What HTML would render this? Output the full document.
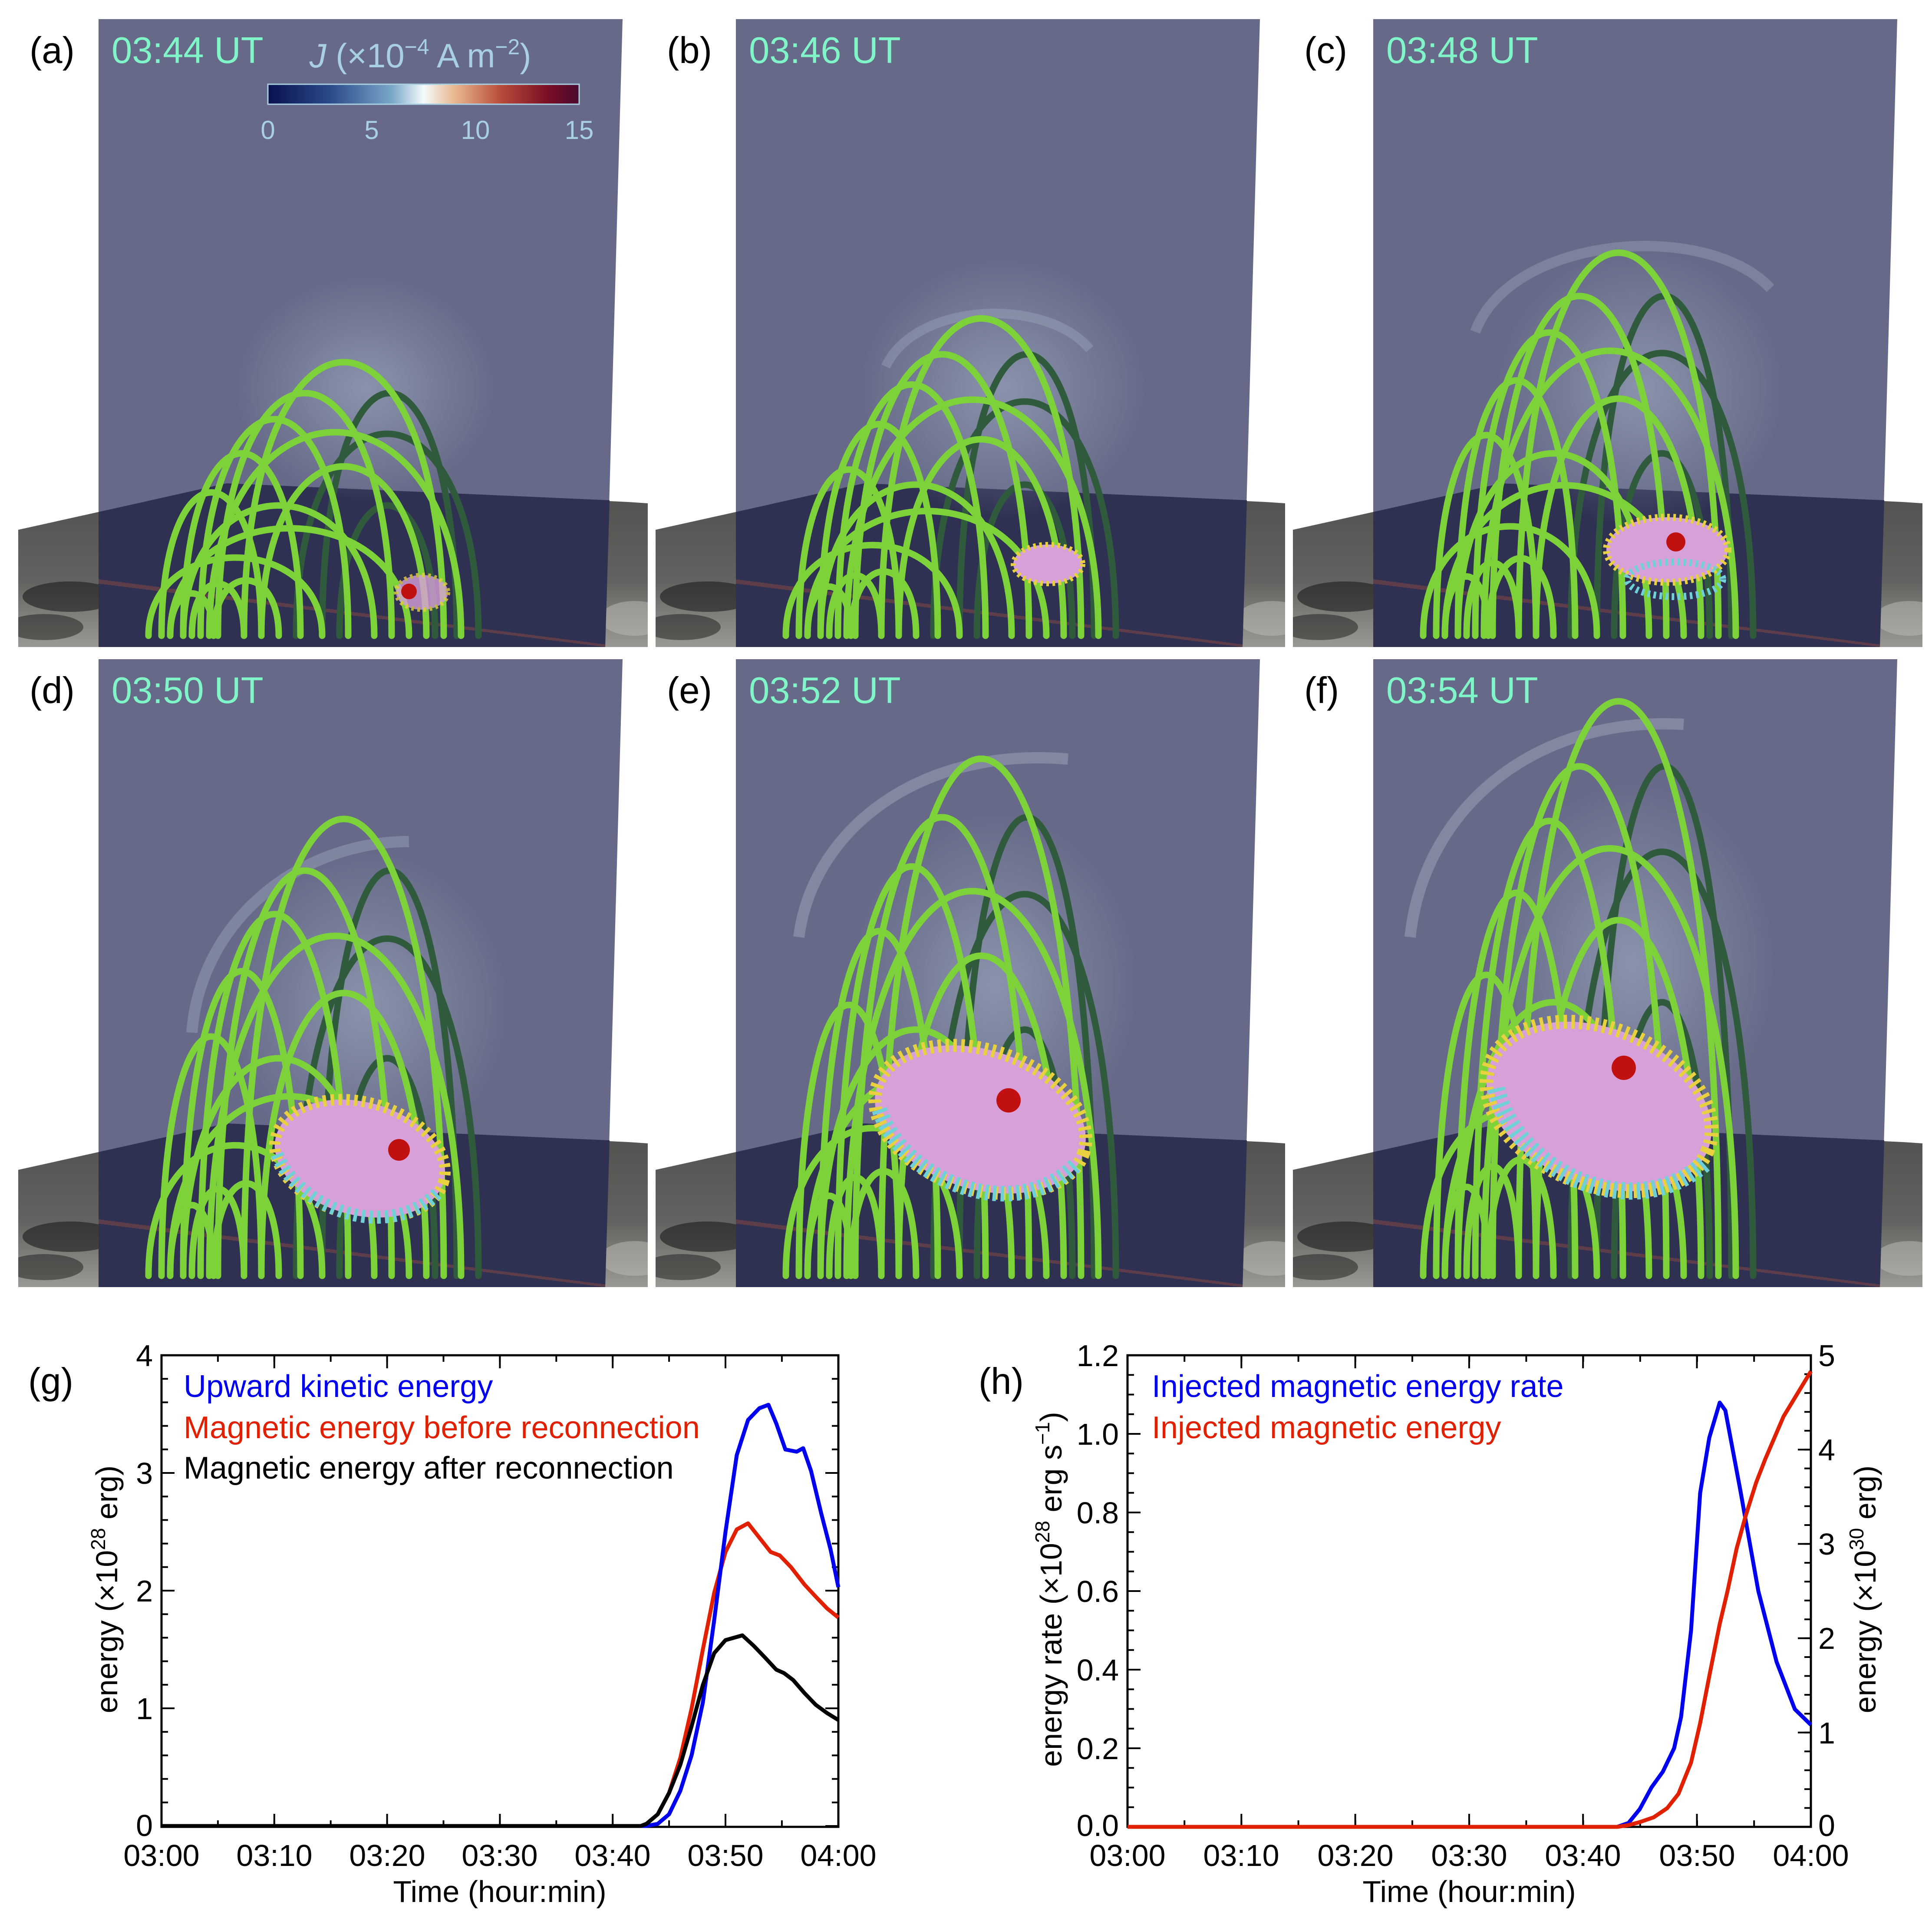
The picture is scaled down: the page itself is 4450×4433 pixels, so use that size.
<!DOCTYPE html>
<html><head><meta charset="utf-8"><style>
html,body{margin:0;padding:0;background:#fff}
svg{display:block}
text{font-family:"Liberation Sans",sans-serif}
</style></head><body>
<svg xmlns="http://www.w3.org/2000/svg" xmlns:xlink="http://www.w3.org/1999/xlink" width="4450" height="4433" viewBox="0 0 4450 4433">
<defs>
<clipPath id="pc"><rect x="0" y="0" width="1450" height="1446"/></clipPath>
<linearGradient id="cb" x1="0" x2="1" y1="0" y2="0">
<stop offset="0" stop-color="#0a1050"/><stop offset="0.2" stop-color="#2a4a8a"/><stop offset="0.4" stop-color="#7aa8c8"/><stop offset="0.5" stop-color="#f4fbfb"/><stop offset="0.6" stop-color="#e8b890"/><stop offset="0.75" stop-color="#b84a3a"/><stop offset="0.9" stop-color="#7a0e24"/><stop offset="1" stop-color="#4a0a30"/>
</linearGradient>
<linearGradient id="fl" x1="0" x2="0" y1="0" y2="1">
<stop offset="0" stop-color="#505050"/><stop offset="0.6" stop-color="#626260"/><stop offset="1" stop-color="#9a9a94"/>
</linearGradient>
<radialGradient id="glow" cx="0.5" cy="0.5" r="0.5">
<stop offset="0" stop-color="#a8b4c8" stop-opacity="0.55"/><stop offset="1" stop-color="#a8b4c8" stop-opacity="0"/>
</radialGradient>
<g id="bg">
<rect x="0" y="0" width="1450" height="1446" fill="#fff"/>
<polygon points="0,1176 185,1135 480,1069 1405,1112 1450,1115 1450,1446 0,1446" fill="url(#fl)"/>
<ellipse cx="120" cy="1330" rx="110" ry="35" fill="#1a1a1a" opacity="0.6"/>
<ellipse cx="60" cy="1400" rx="90" ry="30" fill="#1a1a1a" opacity="0.5"/>
<ellipse cx="330" cy="1260" rx="90" ry="25" fill="#2a2a2a" opacity="0.5"/>
<ellipse cx="1420" cy="1380" rx="80" ry="40" fill="#bdbdb5" opacity="0.5"/>
<polygon points="185,0 1392,0 1352,1446 185,1446" fill="#666a88"/>
<polygon points="185,1135 480,1069 1362,1108 1352,1446 185,1446" fill="#2f3152"/>
<polygon points="185,1290 1352,1440 1352,1446 185,1300" fill="#8a4a40" opacity="0.5"/>
</g>
<g id="loops" fill="none" stroke-linecap="round">
<g stroke="#2f5a3c">
<path vector-effect="non-scaling-stroke" stroke-width="15" d="M700 1420 C700 675, 1010 675, 1010 1420"/>
<path vector-effect="non-scaling-stroke" stroke-width="15" d="M740 1420 C740 1020, 960 1020, 960 1420"/>
<path vector-effect="non-scaling-stroke" stroke-width="15" d="M640 1420 C640 800, 1060 800, 1060 1420"/>
</g>
<g stroke="#7dd23a">
<path vector-effect="non-scaling-stroke" stroke-width="15" d="M330 1420 C330 980, 560 980, 560 1420"/>
<path vector-effect="non-scaling-stroke" stroke-width="15" d="M380 1420 C380 860, 650 860, 650 1420"/>
<path vector-effect="non-scaling-stroke" stroke-width="15" d="M420 1420 C420 755, 760 755, 760 1420"/>
<path vector-effect="non-scaling-stroke" stroke-width="15" d="M460 1420 C460 675, 860 675, 860 1420"/>
<path vector-effect="non-scaling-stroke" stroke-width="15" d="M520 1420 C520 580, 980 580, 980 1420"/>
<path vector-effect="non-scaling-stroke" stroke-width="15" d="M440 1420 C440 795, 1020 795, 1020 1420"/>
<path vector-effect="non-scaling-stroke" stroke-width="15" d="M350 1420 C350 1090, 900 1090, 900 1420"/>
<path vector-effect="non-scaling-stroke" stroke-width="15" d="M300 1420 C300 1180, 700 1180, 700 1420"/>
<path vector-effect="non-scaling-stroke" stroke-width="15" d="M380 1420 C380 1020, 820 1020, 820 1420"/>
<path vector-effect="non-scaling-stroke" stroke-width="15" d="M350 1420 C350 1290, 450 1290, 450 1420"/>
<path vector-effect="non-scaling-stroke" stroke-width="15" d="M400 1420 C400 1260, 520 1260, 520 1420"/>
<path vector-effect="non-scaling-stroke" stroke-width="15" d="M450 1420 C450 1250, 600 1250, 600 1420"/>
<path vector-effect="non-scaling-stroke" stroke-width="15" d="M560 1420 C560 900, 940 900, 940 1420"/>
</g>
</g>
</defs>

<!-- panel a -->
<g transform="translate(42,44)" clip-path="url(#pc)">
<use xlink:href="#bg"/>
<ellipse cx="800" cy="850" rx="300" ry="260" fill="url(#glow)"/>
<use xlink:href="#loops"/>
<ellipse cx="930" cy="1320" rx="60" ry="40" fill="#d7a0d8" stroke="#e8d040" stroke-width="10" stroke-dasharray="6 8" opacity="0.8"/>
<circle cx="900" cy="1318" r="18" fill="#c01010"/>
<text x="26" y="101" font-size="85" fill="#000">(a)</text>
<text x="215" y="101" font-size="85" fill="#7ff5c8">03:44 UT</text>
<text x="926" y="111" font-size="78" fill="#a8d0e0" text-anchor="middle"><tspan font-style="italic">J</tspan> (×10<tspan font-size="50" dy="-30">−4</tspan><tspan dy="30"> A m</tspan><tspan font-size="50" dy="-30">−2</tspan><tspan dy="30">)</tspan></text>
<rect x="575" y="150" width="717" height="46" fill="url(#cb)" stroke="#a8d0e0" stroke-width="3"/>
<g font-size="60" fill="#a8d0e0" text-anchor="middle"><text x="575" y="276">0</text><text x="814" y="276">5</text><text x="1053" y="276">10</text><text x="1292" y="276">15</text></g>
</g>

<!-- panel b -->
<g transform="translate(1510,44)" clip-path="url(#pc)">
<use xlink:href="#bg"/>
<path d="M530 800 C600 650, 900 640, 1000 760" fill="none" stroke="#c0ccd8" stroke-width="22" opacity="0.25"/>
<ellipse cx="800" cy="850" rx="330" ry="300" fill="url(#glow)"/>
<use xlink:href="#loops" transform="translate(0,1420) scale(1,1.16) translate(0,-1420)"/>
<ellipse cx="904" cy="1255" rx="80" ry="45" fill="#d7a0d8" stroke="#e8d040" stroke-width="12" stroke-dasharray="6 8"/>
<text x="26" y="101" font-size="85" fill="#000">(b)</text>
<text x="215" y="101" font-size="85" fill="#7ff5c8">03:46 UT</text>
</g>

<!-- panel c -->
<g transform="translate(2978,44)" clip-path="url(#pc)">
<use xlink:href="#bg"/>
<path d="M420 720 C500 500, 950 460, 1100 620" fill="none" stroke="#c0ccd8" stroke-width="24" opacity="0.25"/>
<ellipse cx="800" cy="850" rx="330" ry="320" fill="url(#glow)"/>
<use xlink:href="#loops" transform="translate(0,1420) scale(1,1.4) translate(0,-1420)"/>
<ellipse cx="862" cy="1222" rx="140" ry="75" fill="#d7a0d8" stroke="#e8d040" stroke-width="16" stroke-dasharray="6 8"/>
<ellipse cx="880" cy="1290" rx="110" ry="40" fill="none" stroke="#70d0d8" stroke-width="16" stroke-dasharray="6 8"/>
<circle cx="882" cy="1204" r="22" fill="#c01010"/>
<text x="26" y="101" font-size="85" fill="#000">(c)</text>
<text x="215" y="101" font-size="85" fill="#7ff5c8">03:48 UT</text>
</g>

<!-- panel d -->
<g transform="translate(42,1518)" clip-path="url(#pc)">
<use xlink:href="#bg"/>
<path d="M400 860 C420 600, 650 420, 900 420" fill="none" stroke="#c0ccd8" stroke-width="26" opacity="0.28"/>
<ellipse cx="800" cy="800" rx="330" ry="360" fill="url(#glow)"/>
<use xlink:href="#loops" transform="translate(0,1420) scale(1,1.67) translate(0,-1420)"/>
<g transform="rotate(15 787 1150)">
<ellipse cx="787" cy="1150" rx="200" ry="130" fill="#d7a0d8" stroke="#e8d040" stroke-width="26" stroke-dasharray="8 10"/>
<path d="M600 1190 C680 1300, 900 1320, 980 1180" fill="none" stroke="#70d0d8" stroke-width="30" stroke-dasharray="8 10"/>
</g>
<circle cx="877" cy="1130" r="25" fill="#c01010"/>
<text x="26" y="101" font-size="85" fill="#000">(d)</text>
<text x="215" y="101" font-size="85" fill="#7ff5c8">03:50 UT</text>
</g>

<!-- panel e -->
<g transform="translate(1510,1518)" clip-path="url(#pc)">
<use xlink:href="#bg"/>
<path d="M330 640 C360 400, 600 200, 950 230" fill="none" stroke="#c0ccd8" stroke-width="26" opacity="0.3"/>
<ellipse cx="780" cy="750" rx="330" ry="400" fill="url(#glow)"/>
<use xlink:href="#loops" transform="translate(0,1420) scale(1,1.89) translate(0,-1420)"/>
<g transform="rotate(18 748 1060)">
<ellipse cx="748" cy="1060" rx="250" ry="160" fill="#d7a0d8" stroke="#e8d040" stroke-width="30" stroke-dasharray="8 10"/>
<path d="M520 1110 C620 1250, 900 1270, 990 1090" fill="none" stroke="#70d0d8" stroke-width="36" stroke-dasharray="8 10"/>
</g>
<circle cx="813" cy="1016" r="28" fill="#c01010"/>
<text x="26" y="101" font-size="85" fill="#000">(e)</text>
<text x="215" y="101" font-size="85" fill="#7ff5c8">03:52 UT</text>
</g>

<!-- panel f -->
<g transform="translate(2978,1518)" clip-path="url(#pc)">
<use xlink:href="#bg"/>
<path d="M270 640 C300 350, 550 130, 900 150" fill="none" stroke="#c0ccd8" stroke-width="26" opacity="0.3"/>
<ellipse cx="780" cy="700" rx="330" ry="420" fill="url(#glow)"/>
<use xlink:href="#loops" transform="translate(0,1420) scale(1,2.1) translate(0,-1420)"/>
<g transform="rotate(22 705 1030)">
<ellipse cx="705" cy="1030" rx="270" ry="180" fill="#d7a0d8" stroke="#e8d040" stroke-width="32" stroke-dasharray="8 10"/>
<path d="M470 1080 C580 1240, 880 1260, 980 1060" fill="none" stroke="#70d0d8" stroke-width="40" stroke-dasharray="8 10"/>
</g>
<circle cx="762" cy="941" r="28" fill="#c01010"/>
<text x="26" y="101" font-size="85" fill="#000">(f)</text>
<text x="215" y="101" font-size="85" fill="#7ff5c8">03:54 UT</text>
</g>

<!-- chart g -->
<g>
<text x="65" y="3210" font-size="85">(g)</text>
<rect x="372" y="3121" width="1559" height="1086" fill="none" stroke="#000" stroke-width="5"/>
<line x1="379.5" y1="3119" x2="379.5" y2="4209" stroke="#000" stroke-width="15" stroke-dasharray="4 50.2"/>
<line x1="387" y1="3119" x2="387" y2="4209" stroke="#000" stroke-width="30" stroke-dasharray="4 267"/>
<line x1="1923.5" y1="3119" x2="1923.5" y2="4209" stroke="#000" stroke-width="15" stroke-dasharray="4 50.2"/>
<line x1="1916" y1="3119" x2="1916" y2="4209" stroke="#000" stroke-width="30" stroke-dasharray="4 267"/>
<line x1="370" y1="4199.5" x2="1934" y2="4199.5" stroke="#000" stroke-width="15" stroke-dasharray="4 125.9"/>
<line x1="370" y1="4192" x2="1934" y2="4192" stroke="#000" stroke-width="30" stroke-dasharray="4 255.8"/>
<line x1="370" y1="3128.5" x2="1934" y2="3128.5" stroke="#000" stroke-width="15" stroke-dasharray="4 125.9"/>
<line x1="370" y1="3136" x2="1934" y2="3136" stroke="#000" stroke-width="30" stroke-dasharray="4 255.8"/>
<g font-size="70" text-anchor="end"><text x="352" y="3146">4</text><text x="352" y="3417">3</text><text x="352" y="3688">2</text><text x="352" y="3959">1</text><text x="352" y="4228">0</text></g>
<g font-size="70" text-anchor="middle"><text x="372" y="4297">03:00</text><text x="632" y="4297">03:10</text><text x="892" y="4297">03:20</text><text x="1151" y="4297">03:30</text><text x="1411" y="4297">03:40</text><text x="1671" y="4297">03:50</text><text x="1931" y="4297">04:00</text>
<text x="1151" y="4380">Time (hour:min)</text></g>
<text transform="translate(270,3660) rotate(-90)" font-size="70" text-anchor="middle">energy (×10<tspan font-size="46" dy="-28">28</tspan><tspan dy="28"> erg)</tspan></text>
<g fill="none" stroke-width="9" stroke-linejoin="round">
<polyline stroke="#e02000" points="372,4205 1476,4205 1489,4200 1515,4178 1541,4129 1567,4048 1593,3934 1619,3798 1645,3668 1671,3574 1697,3522 1723,3508 1749,3541 1775,3574 1796,3582 1822,3609 1853,3649 1879,3677 1905,3704 1931,3725"/>
<polyline stroke="#0000f0" points="372,4205 1489,4205 1515,4200 1541,4178 1567,4124 1593,4042 1619,3920 1645,3731 1671,3528 1697,3351 1723,3270 1749,3243 1770,3235 1788,3278 1809,3338 1835,3343 1850,3335 1868,3387 1892,3487 1913,3568 1931,3655"/>
<polyline stroke="#000" points="372,4205 1476,4205 1489,4200 1515,4178 1541,4129 1567,4064 1593,3975 1619,3880 1645,3807 1671,3777 1710,3766 1736,3790 1762,3817 1788,3845 1806,3853 1827,3869 1853,3899 1879,3926 1905,3945 1931,3961"/>
</g>
<g font-size="72"><text x="423" y="3217" fill="#0000f0">Upward kinetic energy</text><text x="423" y="3312" fill="#e02000">Magnetic energy before reconnection</text><text x="423" y="3405" fill="#000">Magnetic energy after reconnection</text></g>
</g>

<!-- chart h -->
<g>
<text x="2254" y="3210" font-size="85">(h)</text>
<rect x="2597" y="3121" width="1574" height="1086" fill="none" stroke="#000" stroke-width="5"/>
<line x1="2604.5" y1="3119" x2="2604.5" y2="4209" stroke="#000" stroke-width="15" stroke-dasharray="4 41.25"/>
<line x1="2612" y1="3119" x2="2612" y2="4209" stroke="#000" stroke-width="30" stroke-dasharray="4 177"/>
<line x1="4163.5" y1="3119" x2="4163.5" y2="4209" stroke="#000" stroke-width="15" stroke-dasharray="4 39.44"/>
<line x1="4156" y1="3119" x2="4156" y2="4209" stroke="#000" stroke-width="30" stroke-dasharray="4 213.2"/>
<line x1="2595" y1="4199.5" x2="4174" y2="4199.5" stroke="#000" stroke-width="15" stroke-dasharray="4 127.2"/>
<line x1="2595" y1="4192" x2="4174" y2="4192" stroke="#000" stroke-width="30" stroke-dasharray="4 258.3"/>
<line x1="2595" y1="3128.5" x2="4174" y2="3128.5" stroke="#000" stroke-width="15" stroke-dasharray="4 127.2"/>
<line x1="2595" y1="3136" x2="4174" y2="3136" stroke="#000" stroke-width="30" stroke-dasharray="4 258.3"/>
<g font-size="70" text-anchor="end"><text x="2577" y="3146">1.2</text><text x="2577" y="3327">1.0</text><text x="2577" y="3508">0.8</text><text x="2577" y="3689">0.6</text><text x="2577" y="3870">0.4</text><text x="2577" y="4051">0.2</text><text x="2577" y="4228">0.0</text></g>
<g font-size="70"><text x="4188" y="3146">5</text><text x="4188" y="3363">4</text><text x="4188" y="3580">3</text><text x="4188" y="3797">2</text><text x="4188" y="4015">1</text><text x="4188" y="4228">0</text></g>
<g font-size="70" text-anchor="middle"><text x="2597" y="4297">03:00</text><text x="2859" y="4297">03:10</text><text x="3122" y="4297">03:20</text><text x="3384" y="4297">03:30</text><text x="3646" y="4297">03:40</text><text x="3909" y="4297">03:50</text><text x="4171" y="4297">04:00</text>
<text x="3384" y="4380">Time (hour:min)</text></g>
<text transform="translate(2445,3660) rotate(-90)" font-size="70" text-anchor="middle">energy rate (×10<tspan font-size="46" dy="-28">28</tspan><tspan dy="28"> erg s</tspan><tspan font-size="46" dy="-28">−1</tspan><tspan dy="28">)</tspan></text>
<text transform="translate(4320,3660) rotate(-90)" font-size="70" text-anchor="middle">energy (×10<tspan font-size="46" dy="-28">30</tspan><tspan dy="28"> erg)</tspan></text>
<g fill="none" stroke-width="9" stroke-linejoin="round">
<polyline stroke="#0000f0" points="2597,4207 3725,4207 3751,4198 3777,4166 3804,4116 3830,4080 3856,4026 3872,3954 3895,3755 3916,3438 3937,3311 3961,3230 3974,3248 4008,3429 4050,3664 4092,3827 4134,3936 4171,3972"/>
<polyline stroke="#e02000" points="2597,4207 3725,4207 3751,4203 3777,4196 3809,4185 3840,4164 3866,4131 3895,4059 3916,3968 3937,3860 3961,3740 3979,3664 4000,3566 4021,3490 4045,3414 4066,3360 4108,3262 4171,3158"/>
</g>
<g font-size="72"><text x="2653" y="3217" fill="#0000f0">Injected magnetic energy rate</text><text x="2653" y="3312" fill="#e02000">Injected magnetic energy</text></g>
</g>
</svg>
</body></html>
